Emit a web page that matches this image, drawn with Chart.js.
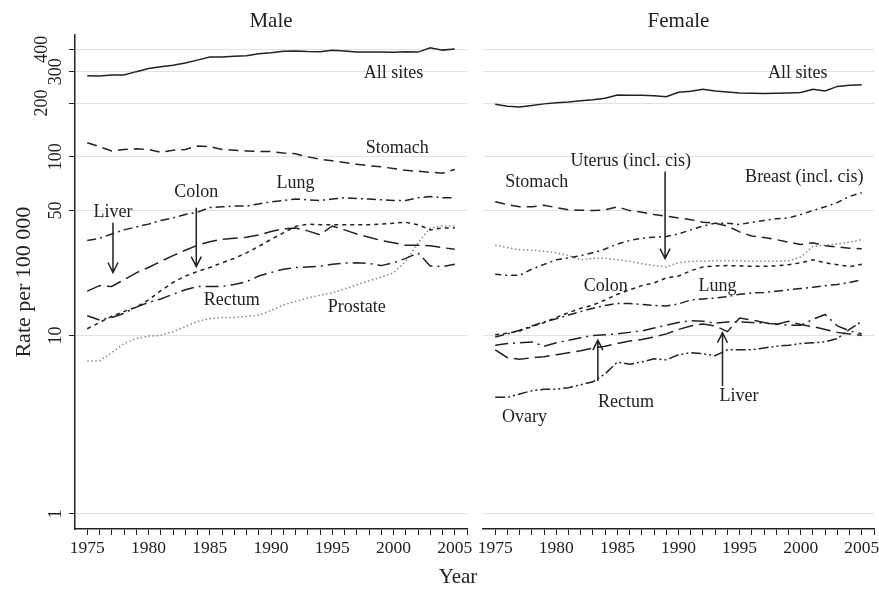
<!DOCTYPE html>
<html>
<head>
<meta charset="utf-8">
<script src="https://cdn.jsdelivr.net/npm/chart.js@4.4.1/dist/chart.umd.min.js"></script>
<style>
  html, body { margin: 0; padding: 0; background: #fff; }
  #wrap { position: relative; width: 879px; height: 592px; overflow: hidden; }
  #grafMale { position: absolute; left: 0; top: 0; }
  #grafFemale { position: absolute; left: 470px; top: 0; }
  #xtitle { position: absolute; left: 398px; width: 120px; top: 563px; text-align: center;
            font: 21px "Liberation Serif", serif; color: #222; line-height: 26px; }
</style>
</head>
<body>
<div id="wrap">
  <canvas id="grafMale" width="480" height="592"></canvas>
  <canvas id="grafFemale" width="409" height="592"></canvas>
  <div id="xtitle">Year</div>
</div>
<script>
const years = [1975, 1976, 1977, 1978, 1979, 1980, 1981, 1982, 1983, 1984, 1985, 1986, 1987, 1988, 1989, 1990,
               1991, 1992, 1993, 1994, 1995, 1996, 1997, 1998, 1999, 2000, 2001, 2002, 2003, 2004, 2005];
const yTicks = [1, 10, 50, 100, 200, 300, 400];

// male
const maleAllSites = [285, 284, 287, 287, 300, 312, 320, 326, 335, 348, 362, 362, 366, 368, 378, 383,
                      390, 392, 389, 388, 395, 392, 387, 387, 386, 385, 388, 386, 408, 396, 402];
const maleStomach = [120, 114, 108, 110, 111, 110, 106, 109, 110, 115, 114, 110, 109, 108, 107, 107,
                     105, 104, 100, 97, 95, 93, 91, 89, 88, 86, 84, 83, 82, 81, 85];
const maleLung = [34, 35, 37, 39, 40.5, 42, 44, 45.5, 47.5, 49, 52, 52.5, 53, 53, 54.5, 56,
                  57, 58, 57.5, 57, 58, 59, 58.5, 58, 57.5, 57, 57, 59, 60, 59, 59];
const maleLiver = [17.7, 19.0, 18.8, 20.5, 22.4, 24, 26, 28, 30, 32, 33.5, 34.5, 35, 35.5, 36.5, 38.2,
                   39.5, 40, 38.5, 36.6, 41, 39, 37, 35.5, 34, 33, 32, 32, 31.8, 31, 30.4];
const maleColon = [10.9, 11.8, 12.8, 13.6, 14.4, 15.8, 17.8, 19.8, 21.5, 22.8, 24, 25.5, 27, 29, 31.5, 34.5,
                   37.5, 40.8, 42, 41.7, 41.7, 41.7, 41.7, 41.7, 42, 42.5, 43, 41.7, 39, 40, 40];
const maleRectum = [12.9, 12.2, 12.6, 13.3, 14.4, 15.3, 16.0, 17.0, 18.0, 18.8, 18.8, 18.8, 19.3, 20.0, 21.5, 22.5,
                    23.5, 24.0, 24.2, 24.4, 25.0, 25.4, 25.5, 25.3, 24.6, 25.5, 27, 29, 24.5, 24.3, 25];
const maleProstate = [7.2, 7.2, 8.0, 9.0, 9.6, 9.9, 10.0, 10.5, 11.2, 12.0, 12.4, 12.6, 12.6, 12.8, 13.0, 13.8,
                      14.8, 15.5, 16.2, 16.8, 17.3, 18.2, 19.2, 20.2, 21.2, 22.4, 26, 33, 40, 41, 41];

// female
const femaleAllSites = [197, 192, 190, 194, 198, 201, 203, 206, 209, 213, 222, 221, 221, 220, 217, 230,
                        233, 239, 234, 231, 228, 227, 226, 227, 228, 229, 239, 234, 248, 252, 253];
const femaleStomach = [56, 54, 52.5, 52.5, 53.5, 52, 50.5, 50.3, 50, 50.5, 52.5, 50, 49, 47.5, 46.5, 45.5,
                       44.5, 43, 42.5, 41, 38, 36, 35.3, 34.4, 33.3, 32.3, 33, 31.8, 31.3, 30.8, 30.6];
const femaleBreast = [22, 21.7, 21.7, 23.5, 25, 26.5, 27.2, 28, 29, 30.5, 32.5, 34, 35, 35.5, 35.8, 37,
                      39, 41, 42.5, 42.5, 41.8, 43, 44, 45, 45.5, 47.5, 50, 52.5, 55.5, 60, 63];
const femaleUterus = [32, 31, 30.2, 30, 29.6, 29, 28, 26.5, 27, 27.1, 26.5, 26, 25.2, 24.6, 24.2, 25.5,
                      26, 26, 26.2, 26.2, 26.2, 26, 26, 26, 26.2, 27.5, 31.5, 32, 32.5, 33.3, 34.4];
const femaleColon = [10.1, 10.3, 10.6, 11.2, 11.8, 12.6, 13.4, 14.2, 14.8, 15.8, 17.0, 18.0, 19.0, 19.7, 21, 21.5,
                     23, 24.2, 24.5, 24.6, 24.5, 24.4, 24.4, 24.5, 24.9, 25.5, 26.5, 25.5, 24.9, 24.3, 25];
const femaleLung = [9.8, 10.2, 10.7, 11.3, 11.9, 12.4, 13, 13.6, 14.2, 14.7, 15.1, 15.1, 14.9, 14.7, 14.6, 15.0,
                    15.8, 16.0, 16.2, 16.5, 17.0, 17.3, 17.4, 17.7, 18.0, 18.3, 18.6, 19, 19.3, 19.8, 20.5];
const femaleRectum = [8.8, 9.0, 9.1, 9.2, 8.7, 9.1, 9.4, 9.7, 10.0, 10.1, 10.2, 10.4, 10.6, 11.0, 11.4, 11.8,
                      12.1, 12.0, 11.7, 11.9, 11.9, 11.8, 11.7, 11.6, 11.4, 11.4, 12.3, 13.1, 11.3, 10.6, 10.2];
const femaleLiver = [8.3, 7.5, 7.35, 7.5, 7.6, 7.8, 8.0, 8.2, 8.5, 8.7, 9.0, 9.3, 9.5, 9.8, 10.2, 10.8,
                     11.3, 11.6, 11.3, 10.5, 12.5, 12.2, 11.8, 11.5, 12, 11.5, 11.2, 10.8, 10.4, 10.2, 10.0];
const femaleOvary = [4.5, 4.5, 4.7, 4.9, 5.0, 5.0, 5.1, 5.3, 5.5, 6.1, 7.1, 6.9, 7.1, 7.4, 7.3, 7.8,
                     8.0, 7.9, 7.7, 8.3, 8.3, 8.3, 8.5, 8.7, 8.8, 9.0, 9.1, 9.2, 9.6, 10.8, 12];

const INK = '#222';
const GRID = '#e2e2e2';
const SERIF = '"Liberation Serif", "Times New Roman", serif';

// dash patterns per site
const DASH = {
  allSites: [],
  stomach: [10, 6],
  lung: [9, 4, 2, 4],
  liver: [15, 6],
  colon: [4, 4],
  rectum: [13, 5, 2, 5],
  fineDots: [1.5, 2.5],
  breast: [6, 4, 2, 4],
  ovary: [10, 3, 2, 3, 2, 3]
};

function serie(vals, dash, color) {
  return {
    data: years.map((yr, i) => ({ x: yr, y: vals[i] })),
    borderColor: color || INK,
    borderWidth: 1.5,
    borderDash: dash,
    pointRadius: 0,
    tension: 0,
    fill: false
  };
}

const tickYears = [];
for (let y = 1975; y <= 2006; y++) tickYears.push(y);

function xScale() {
  return {
    type: 'linear', min: 1974, max: 2006,
    afterBuildTicks: s => { s.ticks = tickYears.map(v => ({ value: v })); },
    ticks: {
      autoSkip: false, maxRotation: 0, minRotation: 0, padding: 3, color: INK,
      font: { family: SERIF, size: 17.5 },
      callback: v => (v % 5 === 0 ? String(v) : '')
    },
    grid: { drawOnChartArea: false, drawTicks: true, tickLength: 6, tickColor: INK, tickWidth: 1 },
    border: { display: true, color: INK, width: 1.5 }
  };
}

// text notes and arrows, placed in data coordinates
const notesPlugin = {
  id: 'notes',
  afterDatasetsDraw(chart, args, opts) {
    const ctx = chart.ctx, sx = chart.scales.x, sy = chart.scales.y;
    ctx.save();
    ctx.fillStyle = INK;
    ctx.strokeStyle = INK;
    ctx.font = '18px ' + SERIF;
    ctx.textAlign = 'center';
    ctx.textBaseline = 'middle';
    (opts.labels || []).forEach(l => {
      ctx.fillText(l.text, sx.getPixelForValue(l.year), sy.getPixelForValue(l.value));
    });
    ctx.lineWidth = 1.5;
    ctx.setLineDash([]);
    (opts.arrows || []).forEach(a => {
      const x = sx.getPixelForValue(a.year);
      const y0 = sy.getPixelForValue(a.from), y1 = sy.getPixelForValue(a.to);
      const d = y1 > y0 ? -1 : 1;
      ctx.beginPath();
      ctx.moveTo(x, y0); ctx.lineTo(x, y1);
      ctx.moveTo(x - 5, y1 + d * 10); ctx.lineTo(x, y1); ctx.lineTo(x + 5, y1 + d * 10);
      ctx.stroke();
    });
    ctx.restore();
  }
};

// rotated y tick labels (two of them sit further out, as in the original)
const yLabelPlugin = {
  id: 'yLabels',
  afterDraw(chart) {
    const ctx = chart.ctx, s = chart.scales.y;
    ctx.save();
    ctx.fillStyle = INK;
    ctx.font = '18px ' + SERIF;
    ctx.textAlign = 'center';
    ctx.textBaseline = 'middle';
    s.ticks.forEach(t => {
      const y = s.getPixelForValue(t.value);
      const x = (t.value === 200 || t.value === 400) ? 42 : 56;
      ctx.save();
      ctx.translate(x, y);
      ctx.rotate(-Math.PI / 2);
      ctx.fillText(String(t.value), 0, 0);
      ctx.restore();
    });
    ctx.restore();
  }
};

const titleFont = { family: SERIF, size: 21, weight: 'normal' };

new Chart(document.getElementById('grafMale'), {
  type: 'line',
  data: {
    datasets: [
      serie(maleAllSites, DASH.allSites),
      serie(maleStomach, DASH.stomach),
      serie(maleLung, DASH.lung),
      serie(maleLiver, DASH.liver),
      serie(maleColon, DASH.colon),
      serie(maleRectum, DASH.rectum),
      serie(maleProstate, DASH.fineDots, '#8a8a8a')
    ]
  },
  options: {
    responsive: false,
    animation: false,
    layout: { padding: { left: 0, right: 13, top: 0, bottom: 30 } },
    plugins: {
      legend: { display: false },
      tooltip: { enabled: false },
      title: { display: true, text: 'Male', fullSize: false, color: INK, font: titleFont, padding: { top: 9, bottom: 1 } },
      notes: {
        labels: [
          { text: 'All sites', year: 2000.0, value: 295 },
          { text: 'Stomach', year: 2000.3, value: 112 },
          { text: 'Lung', year: 1992.0, value: 70.7 },
          { text: 'Colon', year: 1983.9, value: 63.7 },
          { text: 'Liver', year: 1977.1, value: 48.7 },
          { text: 'Rectum', year: 1986.8, value: 15.7 },
          { text: 'Prostate', year: 1997.0, value: 14.3 }
        ],
        arrows: [
          { year: 1977.1, from: 42.8, to: 22.5 },
          { year: 1983.9, from: 51.9, to: 24.3 }
        ]
      }
    },
    scales: {
      x: xScale(),
      y: {
        type: 'logarithmic', min: 0.824, max: 480,
        afterBuildTicks: s => { s.ticks = yTicks.map(v => ({ value: v })); },
        afterFit: s => { s.width = 75; },
        ticks: { display: false },
        grid: { color: GRID, lineWidth: 1, drawTicks: true, tickLength: 6, tickColor: INK },
        border: { display: true, color: INK, width: 1.5 },
        title: { display: true, text: 'Rate per 100 000', color: INK,
                 font: { family: SERIF, size: 22 }, padding: { top: 11, bottom: 0 } }
      }
    }
  },
  plugins: [notesPlugin, yLabelPlugin]
});

new Chart(document.getElementById('grafFemale'), {
  type: 'line',
  data: {
    datasets: [
      serie(femaleAllSites, DASH.allSites),
      serie(femaleStomach, DASH.stomach),
      serie(femaleBreast, DASH.breast),
      serie(femaleUterus, DASH.fineDots, '#8a8a8a'),
      serie(femaleColon, DASH.colon),
      serie(femaleLung, DASH.lung),
      serie(femaleRectum, DASH.rectum),
      serie(femaleLiver, DASH.liver),
      serie(femaleOvary, DASH.ovary)
    ]
  },
  options: {
    responsive: false,
    animation: false,
    layout: { padding: { left: 0, right: 5, top: 0, bottom: 30 } },
    plugins: {
      legend: { display: false },
      tooltip: { enabled: false },
      title: { display: true, text: 'Female', fullSize: false, color: INK, font: titleFont, padding: { top: 9, bottom: 1 } },
      notes: {
        labels: [
          { text: 'All sites', year: 1999.75, value: 295 },
          { text: 'Stomach', year: 1978.4, value: 71.6 },
          { text: 'Uterus (incl. cis)', year: 1986.1, value: 95 },
          { text: 'Breast (incl. cis)', year: 2000.3, value: 77.3 },
          { text: 'Colon', year: 1984.05, value: 18.9 },
          { text: 'Lung', year: 1993.2, value: 18.9 },
          { text: 'Rectum', year: 1985.7, value: 4.24 },
          { text: 'Liver', year: 1994.96, value: 4.58 },
          { text: 'Ovary', year: 1977.4, value: 3.47 }
        ],
        arrows: [
          { year: 1988.9, from: 82.8, to: 26.9 },
          { year: 1983.4, from: 5.55, to: 9.41 },
          { year: 1993.6, from: 5.21, to: 10.35 }
        ]
      }
    },
    scales: {
      x: xScale(),
      y: {
        type: 'logarithmic', min: 0.824, max: 480,
        afterBuildTicks: s => { s.ticks = yTicks.map(v => ({ value: v })); },
        afterFit: s => { s.width = 13; },
        ticks: { display: false },
        grid: { color: GRID, lineWidth: 1, drawTicks: false },
        border: { display: false }
      }
    }
  },
  plugins: [notesPlugin]
});
</script>
</body>
</html>
